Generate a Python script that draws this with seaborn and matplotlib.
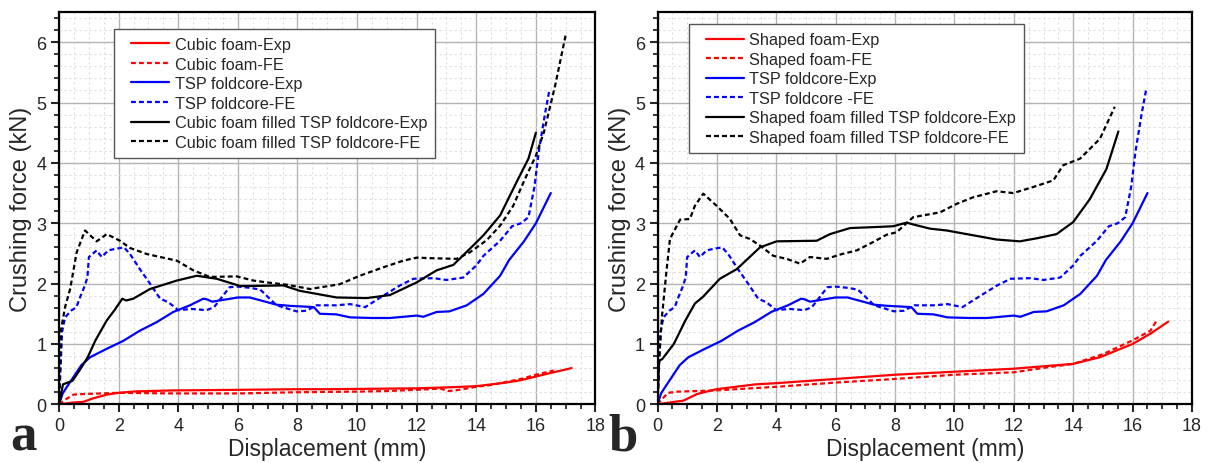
import matplotlib
matplotlib.use("Agg")
import matplotlib.pyplot as plt
from matplotlib.ticker import MultipleLocator
from matplotlib.lines import Line2D
from matplotlib.legend_handler import HandlerLine2D
import seaborn as sns
import pandas as pd

# ---- (a) cubic foam ----
cubic_exp_x = [0, 0.03, 0.48, 0.81, 1.15, 1.6, 1.99, 2.6, 3.83, 5.0, 6.07, 7.0, 8.0, 9.0, 10.0, 11.0, 12.0,
               13.0, 14.0, 15.0, 15.5, 16.0, 16.5, 17.2]
cubic_exp_y = [0, 0.0, 0.03, 0.04, 0.10, 0.16, 0.19, 0.215, 0.23, 0.235, 0.24, 0.245, 0.25, 0.25, 0.255, 0.26,
               0.265, 0.28, 0.30, 0.36, 0.40, 0.46, 0.52, 0.60]
cubic_fe_x = [0, 0.25, 0.48, 0.81, 1.99, 3.83, 6.07, 7.0, 8.0, 9.0, 10.0, 11.0, 12.0, 12.8, 13.05, 13.3, 14.0,
              14.5, 15.0, 15.5, 16.0, 16.6]
cubic_fe_y = [0, 0.09, 0.16, 0.17, 0.19, 0.18, 0.18, 0.19, 0.20, 0.205, 0.21, 0.22, 0.24, 0.26, 0.22, 0.23, 0.29,
              0.32, 0.37, 0.42, 0.49, 0.56]

# ---- TSP foldcore (shown in both panels) ----
tsp_exp_x = [0, 0.12, 0.25, 0.48, 0.75, 1.04, 1.6, 2.15, 2.71, 3.27, 3.83, 4.39, 4.84, 4.95, 5.14, 5.5, 6.0,
             6.4, 7.3, 7.78, 8.2, 8.55, 8.75, 9.3, 9.77, 10.5, 11.1, 12.0, 12.22, 12.67, 13.1, 13.68, 14.24,
             14.8, 15.1, 15.6, 16.0, 16.5]
tsp_exp_y = [0, 0.18, 0.28, 0.45, 0.65, 0.78, 0.92, 1.05, 1.22, 1.36, 1.53, 1.64, 1.75, 1.74, 1.70, 1.73,
             1.77, 1.77, 1.65, 1.63, 1.62, 1.61, 1.50, 1.49, 1.44, 1.43, 1.43, 1.47, 1.45, 1.53, 1.54, 1.64,
             1.83, 2.13, 2.39, 2.70, 3.00, 3.50]
tsp_fe_x = [0, 0.05, 0.1, 0.2, 0.4, 0.58, 0.7, 0.85, 0.95, 1.0, 1.26, 1.43, 1.65, 1.93, 2.18, 2.38, 2.71,
            3.05, 3.39, 3.67, 4.0, 4.44, 4.95, 5.2, 5.47, 5.72, 6.0, 6.4, 6.75, 7.3, 7.97, 8.3, 8.64, 9.31,
            9.77, 10.27, 10.88, 11.44, 11.89, 12.56, 13.0, 13.56, 14.0, 14.24, 14.8, 15.0, 15.2, 15.5,
            15.75, 15.95, 16.1, 16.3, 16.45]
tsp_fe_y = [0, 0.6, 1.2, 1.44, 1.55, 1.61, 1.77, 1.95, 2.1, 2.44, 2.55, 2.44, 2.55, 2.58, 2.60, 2.49, 2.24,
            2.0, 1.75, 1.69, 1.56, 1.58, 1.56, 1.61, 1.78, 1.94, 1.95, 1.93, 1.90, 1.64, 1.54, 1.55, 1.64,
            1.64, 1.66, 1.61, 1.80, 1.97, 2.08, 2.09, 2.06, 2.10, 2.30, 2.46, 2.71, 2.83, 2.95, 3.0,
            3.1, 3.6, 4.2, 4.8, 5.2]

# ---- (a) cubic foam filled TSP foldcore ----
cubic_tsp_exp_x = [0, 0.13, 0.45, 0.71, 0.96, 1.22, 1.6, 1.86, 2.12, 2.25, 2.49, 3.05, 3.95, 4.62, 5.29,
                   6.07, 6.4, 7.52, 8.08, 9.31, 10.32, 11.1, 12.0, 12.67, 13.23, 13.79, 14.24, 14.8, 15.37,
                   15.75, 16.0]
cubic_tsp_exp_y = [0, 0.33, 0.39, 0.58, 0.78, 1.06, 1.39, 1.56, 1.75, 1.72, 1.75, 1.91, 2.05, 2.13, 2.08,
                   1.96, 1.96, 1.97, 1.88, 1.77, 1.76, 1.81, 2.02, 2.22, 2.31, 2.58, 2.80, 3.13, 3.70,
                   4.07, 4.50]
cubic_tsp_fe_x = [0, 0.06, 0.2, 0.37, 0.59, 0.87, 1.26, 1.6, 2.04, 2.38, 2.94, 3.95, 4.5, 5.06, 5.96, 6.52,
                  6.97, 7.66, 8.42, 9.42, 10.09, 10.88, 11.55, 12.0, 12.56, 13.34, 13.79, 14.35, 14.8,
                  15.24, 15.63, 16.0, 16.27, 16.65, 17.0]
cubic_tsp_fe_y = [0, 1.22, 1.61, 1.91, 2.52, 2.88, 2.70, 2.82, 2.71, 2.59, 2.49, 2.38, 2.22, 2.11, 2.12,
                  2.05, 2.02, 1.98, 1.91, 1.99, 2.13, 2.27, 2.38, 2.43, 2.42, 2.41, 2.52, 2.72, 2.96,
                  3.29, 3.73, 4.12, 4.51, 5.29, 6.12]

# ---- (b) shaped foam ----
shaped_exp_x = [0, 0.55, 0.87, 1.33, 1.98, 2.63, 3.29, 4.0, 6.0, 8.0, 10.0, 12.0, 14.0, 14.9, 16.0, 16.6, 17.2]
shaped_exp_y = [0, 0.04, 0.06, 0.17, 0.25, 0.29, 0.33, 0.35, 0.42, 0.49, 0.54, 0.59, 0.67, 0.78, 1.00, 1.17, 1.37]
shaped_fe_x = [0, 0.35, 0.68, 1.98, 4.0, 6.0, 8.0, 10.0, 12.0, 13.1, 14.0, 15.0, 16.0, 16.6, 16.8]
shaped_fe_y = [0, 0.19, 0.21, 0.23, 0.29, 0.36, 0.42, 0.49, 0.53, 0.61, 0.67, 0.83, 1.06, 1.22, 1.38]

# ---- (b) shaped foam filled TSP foldcore ----
shaped_tsp_exp_x = [0, 0.05, 0.16, 0.55, 0.94, 1.26, 1.53, 2.1, 2.67, 3.45, 4.01, 5.36, 5.81, 6.48, 7.49,
                    7.94, 8.39, 8.61, 9.18, 9.74, 10.41, 11.42, 12.2, 12.77, 13.44, 14.0, 14.56, 15.12, 15.52]
shaped_tsp_exp_y = [0, 0.72, 0.75, 1.0, 1.39, 1.67, 1.78, 2.08, 2.24, 2.60, 2.70, 2.71, 2.82, 2.92, 2.94,
                    2.95, 3.01, 2.98, 2.91, 2.88, 2.82, 2.73, 2.70, 2.75, 2.82, 3.02, 3.40, 3.90, 4.52]
shaped_tsp_fe_x = [0, 0.05, 0.15, 0.3, 0.42, 0.76, 1.09, 1.26, 1.54, 1.99, 2.44, 2.78, 3.11, 3.45, 3.9, 4.35,
                   4.8, 5.13, 5.7, 6.14, 6.71, 7.27, 7.72, 8.05, 8.61, 9.51, 10.07, 10.63, 11.42, 11.98,
                   12.65, 13.33, 13.66, 14.23, 14.9, 15.4]
shaped_tsp_fe_y = [0, 0.7, 1.45, 2.2, 2.74, 3.06, 3.07, 3.29, 3.49, 3.29, 3.07, 2.80, 2.74, 2.63, 2.46, 2.41,
                   2.33, 2.44, 2.41, 2.48, 2.55, 2.69, 2.81, 2.85, 3.10, 3.18, 3.32, 3.43, 3.53, 3.50,
                   3.60, 3.71, 3.96, 4.07, 4.40, 4.93]

labels_a = ["Cubic foam-Exp", "Cubic foam-FE", "TSP foldcore-Exp", "TSP foldcore-FE",
            "Cubic foam filled TSP foldcore-Exp", "Cubic foam filled TSP foldcore-FE"]
labels_b = ["Shaped foam-Exp", "Shaped foam-FE", "TSP foldcore-Exp", "TSP foldcore -FE",
            "Shaped foam filled TSP foldcore-Exp", "Shaped foam filled TSP foldcore-FE"]

sns.set_style("white")
plt.rcParams["font.family"] = ["Liberation Sans", "DejaVu Sans"]

RED, BLUE, BLACK = "#ff0000", "#0000ff", "#000000"
DASH = (0, (2.2, 1.4))
styles = [(RED, "-"), (RED, DASH), (BLUE, "-"), (BLUE, DASH), (BLACK, "-"), (BLACK, DASH)]

fig = plt.figure(figsize=(12.07, 4.64), dpi=100)
ax_a = fig.add_axes([59.1 / 1207, 58.7 / 464, 536.4 / 1207, 392.3 / 464])
ax_b = fig.add_axes([657.5 / 1207, 58.7 / 464, 534.5 / 1207, 392.3 / 464])

series_a = [(cubic_exp_x, cubic_exp_y), (cubic_fe_x, cubic_fe_y), (tsp_exp_x, tsp_exp_y),
            (tsp_fe_x, tsp_fe_y), (cubic_tsp_exp_x, cubic_tsp_exp_y), (cubic_tsp_fe_x, cubic_tsp_fe_y)]
series_b = [(shaped_exp_x, shaped_exp_y), (shaped_fe_x, shaped_fe_y), (tsp_exp_x, tsp_exp_y),
            (tsp_fe_x, tsp_fe_y), (shaped_tsp_exp_x, shaped_tsp_exp_y), (shaped_tsp_fe_x, shaped_tsp_fe_y)]


def draw_panel(ax, series, labels, legend_anchor, letter, letter_x):
    # grid first so the curves sit on top
    ax.set_xlim(0, 18)
    ax.set_ylim(0, 6.5)
    ax.xaxis.set_major_locator(MultipleLocator(2))
    ax.xaxis.set_minor_locator(MultipleLocator(0.5))
    ax.yaxis.set_major_locator(MultipleLocator(1))
    ax.yaxis.set_minor_locator(MultipleLocator(0.2))
    ax.grid(which="major", color="#b4b4b4", linewidth=1.0, linestyle="-")
    ax.grid(which="minor", color="#dedede", linewidth=0.8, linestyle=(0, (2, 2.5)))
    ax.set_axisbelow(True)

    handles = []
    for (xs, ys), lab, (col, ls) in zip(series, labels, styles):
        df = pd.DataFrame({"Displacement": xs, "Force": ys})
        sns.lineplot(data=df, x="Displacement", y="Force", ax=ax, sort=False, estimator=None,
                     color=col, linewidth=1.6, linestyle=ls)
        handles.append(Line2D([], [], color=col, linewidth=1.6, linestyle=ls, label=lab))

    ax.set_xlabel("Displacement (mm)", fontsize=16.5, labelpad=2)
    ax.set_ylabel("Crushing force (kN)", fontsize=17, labelpad=3)
    ax.tick_params(axis="both", which="major", direction="out", length=6, width=1.5,
                   labelsize=13, pad=3, bottom=True, left=True, top=False, right=False)
    ax.tick_params(axis="both", which="minor", direction="out", length=3.5, width=1.3,
                   bottom=True, left=True, top=False, right=False)
    for sp in ax.spines.values():
        sp.set_visible(True)
        sp.set_color("black")
        sp.set_linewidth(1.6)

    leg = ax.legend(handles=handles, loc="upper left", bbox_to_anchor=legend_anchor,
                    fontsize=11.7, frameon=True, fancybox=False, framealpha=1.0,
                    edgecolor="#555555", borderpad=0.5, labelspacing=0.28,
                    handlelength=2.9, handletextpad=0.35, borderaxespad=0.0,
                    handler_map={Line2D: HandlerLine2D(xpad=0.55)})
    leg.get_frame().set_linewidth(1.0)

    # panel letter in the lower-left corner
    fig.text(letter_x, 2 / 464, letter, fontsize=38, fontweight="bold",
             family=["Liberation Serif", "DejaVu Serif"], ha="left", va="bottom")


draw_panel(ax_a, series_a, labels_a, (0.102, 0.957), "a", 10 / 1207)
draw_panel(ax_b, series_b, labels_b, (0.058, 0.969), "b", 608 / 1207)

fig.savefig("out.png", dpi=100)
